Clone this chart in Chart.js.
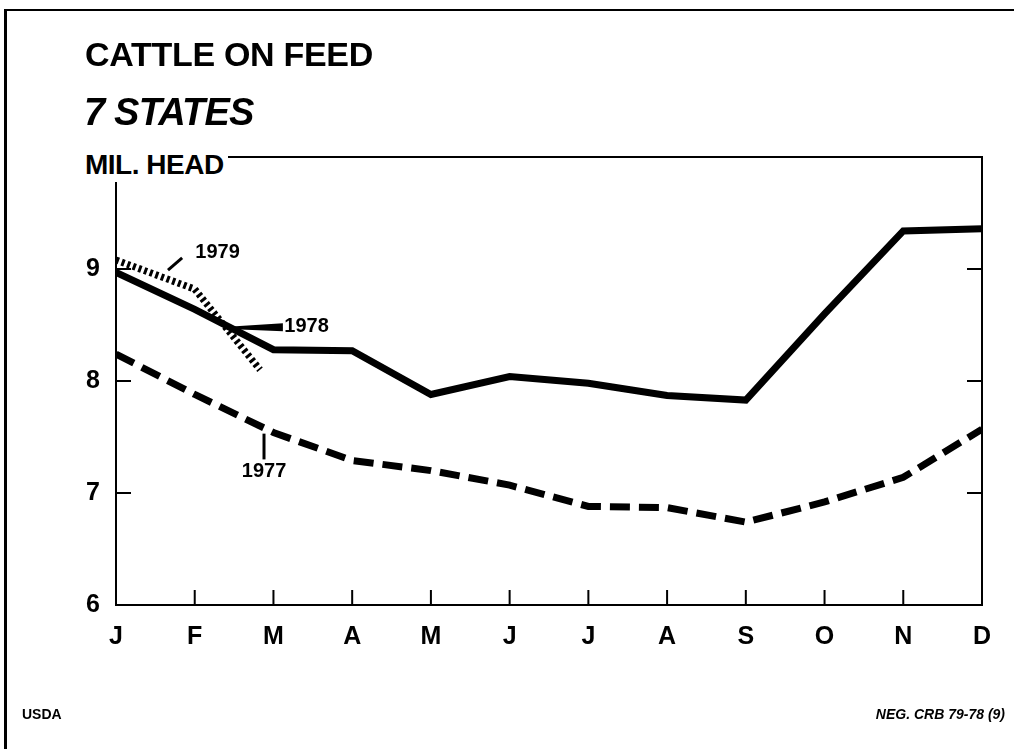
<!DOCTYPE html>
<html>
<head>
<meta charset="utf-8">
<script src="https://cdn.jsdelivr.net/npm/chart.js@4/dist/chart.umd.min.js"></script>
<style>
  html, body { margin: 0; padding: 0; background: #fff; }
  #wrap { position: relative; width: 1014px; height: 749px; overflow: hidden; background: #fff; }
  #frame { position: absolute; left: 4px; top: 9px; width: 1020px; height: 760px; border-left: 3px solid #000; border-top: 2px solid #000; }
  canvas { position: absolute; left: 0; top: 0; }
  .txt { position: absolute; font-family: "Liberation Sans", Arial, sans-serif; color: #000; white-space: nowrap; font-weight: bold; }
  #title { left: 85px; top: 37px; font-size: 34px; line-height: 34px; letter-spacing: -0.3px; }
  #sub { left: 84px; top: 93px; font-size: 38px; line-height: 38px; font-style: italic; letter-spacing: -0.8px; }
  #unit { left: 82px; top: 148px; font-size: 28px; line-height: 34px; background: #fff; padding: 0 4px 0 3px; letter-spacing: -0.5px; }
  #usda { left: 22px; top: 706px; font-size: 14px; line-height: 16px; }
  #neg { right: 9px; top: 706px; font-size: 14px; line-height: 16px; font-style: italic; }
</style>
</head>
<body>
<div id="wrap">
  <div id="frame"></div>
  <canvas id="c" width="1014" height="749"></canvas>
  <div class="txt" id="title">CATTLE ON FEED</div>
  <div class="txt" id="sub">7 STATES</div>
  <div class="txt" id="unit">MIL. HEAD</div>
  <div class="txt" id="usda">USDA</div>
  <div class="txt" id="neg">NEG. CRB 79-78 (9)</div>
</div>
<script>
// ---- data ----
const months = ['J','F','M','A','M','J','J','A','S','O','N','D'];
const monthIndex = [0,1,2,3,4,5,6,7,8,9,10,11];
const y1978 = [8.97, 8.64, 8.28, 8.27, 7.88, 8.04, 7.98, 7.87, 7.83, 8.60, 9.34, 9.36];
const y1977 = [8.24, 7.88, 7.54, 7.29, 7.20, 7.07, 6.88, 6.87, 6.74, 6.92, 7.14, 7.57];
const x1979 = [0, 1, 1.83];
const y1979 = [9.08, 8.82, 8.10];
const yTicks = [6, 7, 8, 9];

const toPts = (xs, ys) => xs.map((x, i) => ({ x: x, y: ys[i] }));

// inward ticks + plot box
const boxPlugin = {
  id: 'box',
  afterDraw(chart) {
    const ctx = chart.ctx, a = chart.chartArea;
    const xs = chart.scales.x, ys = chart.scales.y;
    ctx.save();
    ctx.strokeStyle = '#000';
    ctx.lineWidth = 2;
    ctx.strokeRect(a.left, a.top, a.right - a.left, a.bottom - a.top);
    ctx.beginPath();
    monthIndex.slice(1, -1).forEach(m => {
      const px = xs.getPixelForValue(m);
      ctx.moveTo(px, a.bottom); ctx.lineTo(px, a.bottom - 15);
    });
    [7, 8, 9].forEach(v => {
      const py = ys.getPixelForValue(v);
      ctx.moveTo(a.left, py); ctx.lineTo(a.left + 15, py);
      ctx.moveTo(a.right, py); ctx.lineTo(a.right - 15, py);
    });
    ctx.stroke();
    ctx.restore();
  }
};

// series labels with leader lines (placed in data coordinates)
const labelPlugin = {
  id: 'labels',
  afterDatasetsDraw(chart) {
    const ctx = chart.ctx;
    const X = v => chart.scales.x.getPixelForValue(v);
    const Y = v => chart.scales.y.getPixelForValue(v);
    ctx.save();
    ctx.fillStyle = '#000';
    ctx.strokeStyle = '#000';
    ctx.font = 'bold 20px "Liberation Sans", Arial, sans-serif';
    ctx.textAlign = 'center';
    ctx.textBaseline = 'middle';
    // 1979
    ctx.lineWidth = 3;
    ctx.beginPath();
    ctx.moveTo(X(0.66), Y(8.99)); ctx.lineTo(X(0.84), Y(9.10));
    ctx.stroke();
    ctx.fillText('1979', X(1.29), Y(9.15));
    // 1978 (wedge leader)
    ctx.beginPath();
    ctx.moveTo(X(1.42), Y(8.485));
    ctx.lineTo(X(2.12), Y(8.515));
    ctx.lineTo(X(2.12), Y(8.445));
    ctx.lineTo(X(1.42), Y(8.465));
    ctx.closePath();
    ctx.fill();
    ctx.fillText('1978', X(2.42), Y(8.49));
    // 1977
    ctx.beginPath();
    ctx.moveTo(X(1.88), Y(7.53)); ctx.lineTo(X(1.88), Y(7.30));
    ctx.stroke();
    ctx.fillText('1977', X(1.88), Y(7.19));
    ctx.restore();
  }
};

new Chart(document.getElementById('c'), {
  type: 'line',
  data: {
    datasets: [
      { label: '1978', data: toPts(monthIndex, y1978), borderColor: '#000', borderWidth: 7,
        pointRadius: 0, tension: 0, borderJoinStyle: 'miter', borderCapStyle: 'butt' },
      { label: '1977', data: toPts(monthIndex, y1977), borderColor: '#000', borderWidth: 7,
        borderDash: [20, 9], pointRadius: 0, tension: 0, borderCapStyle: 'butt' },
      { label: '1979', data: toPts(x1979, y1979), borderColor: '#000', borderWidth: 7,
        borderDash: [3, 3], pointRadius: 0, tension: 0, borderCapStyle: 'butt' }
    ]
  },
  options: {
    responsive: false,
    animation: false,
    layout: { padding: { top: 157, right: 32, left: 0, bottom: 0 } },
    plugins: { legend: { display: false }, tooltip: { enabled: false }, title: { display: false } },
    scales: {
      x: {
        type: 'linear', min: 0, max: 11,
        grid: { display: false }, border: { display: false },
        afterFit: s => { s.height = 144; },
        afterBuildTicks: s => { s.ticks = monthIndex.map(v => ({ value: v })); },
        ticks: {
          callback: v => months[v], color: '#000', padding: 9, maxRotation: 0, autoSkip: false,
          font: { family: '"Liberation Sans", Arial, sans-serif', size: 25, weight: 'bold' }
        }
      },
      y: {
        min: 6, max: 10,
        grid: { display: false }, border: { display: false },
        afterFit: s => { s.width = 116; },
        afterBuildTicks: s => { s.ticks = yTicks.map(v => ({ value: v })); },
        ticks: {
          color: '#000', padding: 8,
          font: { family: '"Liberation Sans", Arial, sans-serif', size: 25, weight: 'bold' }
        }
      }
    }
  },
  plugins: [boxPlugin, labelPlugin]
});
</script>
</body>
</html>
